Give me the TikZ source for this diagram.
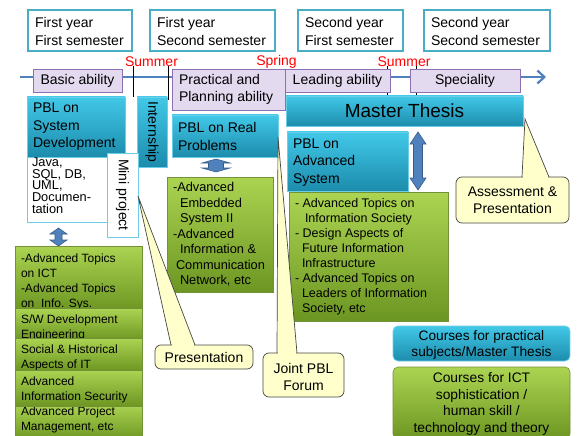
\documentclass[tikz,border=0pt]{standalone}
\usepackage{fontspec}
\setmainfont{Liberation Sans}
\usetikzlibrary{arrows.meta,calc}
\definecolor{semb}{RGB}{75,172,198}
\definecolor{tl}{RGB}{79,129,189}
\definecolor{tldark}{RGB}{56,93,138}
\definecolor{thin}{RGB}{142,180,227}
\definecolor{purf}{RGB}{228,218,240}
\definecolor{purd}{RGB}{140,112,180}
\definecolor{bt}{RGB}{66,200,232}
\definecolor{bb}{RGB}{28,140,172}
\definecolor{bd}{RGB}{110,205,230}
\definecolor{gt}{RGB}{172,212,82}
\definecolor{gb}{RGB}{108,150,34}
\definecolor{gd}{RGB}{115,145,55}
\definecolor{cf}{RGB}{255,255,204}
\definecolor{cd}{RGB}{70,70,70}
\tikzset{
 bxbase/.style={anchor=north west, inner sep=0pt, outer sep=0pt},
 sembox/.style={bxbase, draw=semb, line width=1.2pt, fill=white},
 purbox/.style={bxbase, draw=purd, line width=0.8pt, fill=purf},
 bluebox/.style={bxbase, draw=bd, line width=0.8pt, top color=bt, bottom color=bb},
 greenbox/.style={bxbase, draw=gd, line width=0.6pt, top color=gt, bottom color=gb},
 whitebox/.style={bxbase, draw=bd, line width=0.8pt, fill=white},
 callbox/.style={bxbase, draw=cd, line width=0.7pt, fill=cf, rounded corners=6pt},
 callptr/.style={draw=cd, fill=cf, line width=0.7pt, line join=miter},
 dblarr/.style={draw=tldark, fill=tl, line width=0.6pt},
 txt/.style={inner sep=0pt, outer sep=0pt, text=black},
 fsem/.style={font=\fontsize{14}{18}\selectfont},
 f14/.style={font=\fontsize{14}{17.5}\selectfont},
 fjava/.style={font=\fontsize{12.8}{11.8}\selectfont},
 fgA/.style={font=\fontsize{12.8}{15.5}\selectfont},
 fgB/.style={font=\fontsize{12.5}{15}\selectfont},
 fgL/.style={font=\fontsize{12}{15}\selectfont},
 fleg/.style={font=\fontsize{13.7}{16.5}\selectfont},
 fthesis/.style={font=\fontsize{19}{22}\selectfont},
}
\newcommand\udarr[6]{% cx ytop ybot headhalfwidth shafthalfwidth headlength
 \draw[dblarr] (#1,#2) -- ({#1+#4},{#2+#6}) -- ({#1+#5},{#2+#6}) -- ({#1+#5},{#3-#6}) -- ({#1+#4},{#3-#6}) -- (#1,#3) -- ({#1-#4},{#3-#6}) -- ({#1-#5},{#3-#6}) -- ({#1-#5},{#2+#6}) -- ({#1-#4},{#2+#6}) -- cycle;}
\begin{document}
\begin{tikzpicture}[x=1pt,y=-1pt]
\useasboundingbox (0,0) rectangle (579,436);

% semester boxes
\node[sembox, minimum width=104pt, minimum height=41pt] (s1) at (28,10) {};
\node[txt,fsem,anchor=west,align=left] (s1t) at (35,31) {First year\\First semester};
\node[sembox, minimum width=125pt, minimum height=41pt] (s2) at (150,10) {};
\node[txt,fsem,anchor=west,align=left] (s2t) at (157,31) {First year\\Second semester};
\node[sembox, minimum width=105pt, minimum height=41pt] (s3) at (298,10) {};
\node[txt,fsem,anchor=west,align=left] (s3t) at (305,31) {Second year\\First semester};
\node[sembox, minimum width=126pt, minimum height=41pt] (s4) at (424,10) {};
\node[txt,fsem,anchor=west,align=left] (s4t) at (431,31) {Second year\\Second semester};

% timeline
\coordinate (tls) at (20,77);
\coordinate (tle) at (546,77);
\draw[tl, line width=2.2pt, -{Straight Barb[length=7pt,width=13pt]}] (tls) -- (tle);
\coordinate (m1a) at (133,66); \coordinate (m1b) at (133,97);
\coordinate (m2a) at (168,66); \coordinate (m2b) at (168,100);
\coordinate (m3a) at (387,66); \coordinate (m3b) at (387,96);
\coordinate (m4a) at (416,66); \coordinate (m4b) at (416,97);
\draw[thin, line width=0.8pt] (m1a) -- (m1b) (m2a) -- (m2b) (m3a) -- (m3b) (m4a) -- (m4b);
\node[txt,f14,text=red] (sum1) at (151.5,62) {Summer};
\node[txt,f14,text=red] (spr) at (276.5,62) {Spring};
\node[txt,f14,text=red] (sum2) at (404,62) {Summer};

% ability boxes
\node[purbox, minimum width=89pt, minimum height=23pt] (basic) at (33,69) {};
\node[txt,f14] (basict) at (77.5,80.5) {Basic ability};
\node[purbox, minimum width=113pt, minimum height=41pt] (pract) at (172,69) {};
\node[txt,f14,anchor=west,align=left] (practt) at (179,89.5) {Practical and\\Planning ability};
\node[purbox, minimum width=105pt, minimum height=23pt] (lead) at (285,69) {};
\node[txt,f14] (leadt) at (337.5,80.5) {Leading ability};
\node[purbox, minimum width=110pt, minimum height=23pt] (spec) at (410,69) {};
\node[txt,f14] (spect) at (465,80.5) {Speciality};

% blue boxes
\node[bluebox, minimum width=98pt, minimum height=60pt] (pbls) at (27,97) {};
\node[txt,f14,anchor=west,align=left] (pblst) at (33,127) {PBL on\\System\\Development};
\node[whitebox, minimum width=90pt, minimum height=65pt] (java) at (27,157) {};
\node[txt,fjava,anchor=west,align=left] (javat) at (32,185.5) {Java,\\SQL, DB,\\UML,\\Documen-\\tation};
\node[bluebox, minimum width=30pt, minimum height=70pt] (intern) at (137,97) {};
\node[txt,f14,rotate=-90] (internt) at (152,132) {Internship};
\node[whitebox, minimum width=31pt, minimum height=84pt] (mini) at (107,153) {};
\node[txt,f14,rotate=-90] (minit) at (122.5,195) {Mini project};
\node[bluebox, minimum width=106pt, minimum height=42pt] (pblr) at (172,115) {};
\node[txt,f14,anchor=west,align=left] (pblrt) at (178,136.5) {PBL on Real\\Problems};
\node[bluebox, minimum width=237pt, minimum height=30pt] (thesis) at (286,96) {};
\node[txt,fthesis] (thesist) at (404.5,111) {Master Thesis};
\node[bluebox, minimum width=121pt, minimum height=59pt] (pbla) at (287,132) {};
\node[txt,f14,anchor=west,align=left] (pblat) at (293,162.5) {PBL on\\Advanced\\System};

% double arrows
\udarr{58.5}{228}{246}{8.5}{3.5}{6}
\udarr{216}{159}{172}{14}{7.5}{4}
\udarr{418}{132}{190}{8}{4.5}{12}

% green boxes
\node[greenbox, minimum width=106pt, minimum height=115pt] (g1) at (167,177) {};
\node[txt,fgA,anchor=west,align=left] (g1t) at (173,234.5) {-Advanced\\\hspace*{7pt}Embedded\\\hspace*{7pt}System II\\-Advanced\\\hspace*{7pt}Information \&\\\hspace*{3pt}Communication\\\hspace*{7pt}Network, etc};
\node[greenbox, minimum width=159pt, minimum height=129pt] (g2) at (289,192) {};
\node[txt,fgB,anchor=west,align=left] (g2t) at (295,256.5) {- Advanced Topics on\\\hspace*{10pt}Information Society\\- Design Aspects of\\\hspace*{7pt}Future Information\\\hspace*{7pt}Infrastructure\\- Advanced Topics on\\\hspace*{7pt}Leaders of Information\\\hspace*{7pt}Society, etc};

% left stack
\node[greenbox, minimum width=127pt, minimum height=64pt] (l1) at (15,246) {};
\node[txt,fgL,anchor=west,align=left] (l1t) at (21,282) {-Advanced Topics\\on ICT\\-Advanced Topics\\on\ \ Info. Sys.};
\node[greenbox, minimum width=127pt, minimum height=32pt] (l2) at (15,308) {};
\node[txt,fgL,anchor=west,align=left] (l2t) at (21,327.5) {S/W Development\\Engineering};
\node[greenbox, minimum width=127pt, minimum height=33pt] (l3) at (15,338) {};
\node[txt,fgL,anchor=west,align=left] (l3t) at (21,358) {Social \& Historical\\Aspects of IT};
\node[greenbox, minimum width=127pt, minimum height=36pt] (l5) at (15,404) {};
\node[txt,fgL,anchor=west,align=left] (l5t) at (21,420) {Advanced Project\\Management, etc};
\node[greenbox, minimum width=127pt, minimum height=36pt] (l4) at (15,370) {};
\node[txt,fgL,anchor=west,align=left] (l4t) at (21,389.5) {Advanced\\Information Security};

% legend
\node[bluebox, minimum width=177pt, minimum height=35pt, rounded corners=5pt] (legb) at (393,326) {};
\node[txt,fleg,align=center] (legbt) at (481.5,345) {Courses for practical\\subjects/Master Thesis};
\node[greenbox, minimum width=177pt, minimum height=72pt, rounded corners=5pt] (legg) at (393,367) {};
\node[txt,fleg,align=center,font=\fontsize{13.8}{16.7}\selectfont] (leggt) at (481.5,404) {Courses for ICT\\sophistication /\\human skill /\\technology and theory};

% callout: Assessment
\coordinate (asA) at (522,177); \coordinate (asB) at (549,177); \coordinate (asTip) at (525,119);
\draw[callptr] (asA) -- (asTip) -- (asB);
\node[callbox, minimum width=113pt, minimum height=46pt] (asmt) at (456,177) {};
\fill[cf] ($(asA)+(1.3,-1)$) -- ($(asB)+(-1.3,-1)$) -- ($(asB)+(-1.3,1.2)$) -- ($(asA)+(1.3,1.2)$) -- cycle;
\node[txt,f14,align=center,font=\fontsize{14}{17}\selectfont] (asmtt) at (512.5,200.5) {Assessment \&\\Presentation};

% callout: Presentation
\coordinate (prA) at (171,345); \coordinate (prB) at (195,345); \coordinate (prTip) at (138,196);
\draw[callptr] (prA) -- (prTip) -- (prB);
\node[callbox, minimum width=98pt, minimum height=24pt] (pres) at (155,345) {};
\fill[cf] ($(prA)+(1.3,-1)$) -- ($(prB)+(-1.3,-1)$) -- ($(prB)+(-1.3,1.2)$) -- ($(prA)+(1.3,1.2)$) -- cycle;
\node[txt,f14] (prest) at (204,357) {Presentation};

% callout: Joint PBL Forum
\coordinate (jfA) at (277,353); \coordinate (jfB) at (297,353); \coordinate (jfTip) at (278,137);
\draw[callptr] (jfA) -- (jfTip) -- (jfB);
\node[callbox, minimum width=81pt, minimum height=44pt] (joint) at (263,353) {};
\fill[cf] ($(jfA)+(1.3,-1)$) -- ($(jfB)+(-1.3,-1)$) -- ($(jfB)+(-1.3,1.2)$) -- ($(jfA)+(1.3,1.2)$) -- cycle;
\node[txt,f14,align=center,font=\fontsize{14}{17}\selectfont] (jointt) at (303.5,376.5) {Joint PBL\\Forum};
\end{tikzpicture}
\end{document}
